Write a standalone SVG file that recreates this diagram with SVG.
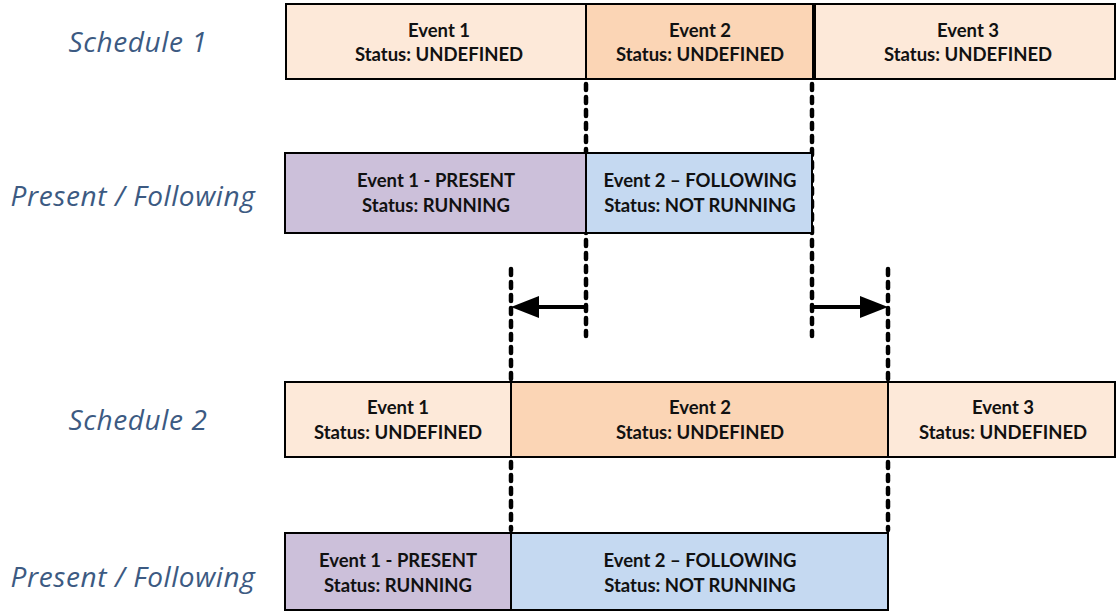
<svg xmlns="http://www.w3.org/2000/svg" width="1118" height="612" viewBox="0 0 1118 612">
<style>
.box{stroke:#000;stroke-width:2}
.sch{fill:#FDE9D9}
.hl{fill:#FBD5B5}
.pr{fill:#CCC0DA}
.fo{fill:#C5D9F1}
.t{font-family:Lato,"Open Sans",sans-serif;font-weight:bold;font-size:18.5px;fill:#111;text-anchor:middle}
.lbl{font-family:"Open Sans",Lato,sans-serif;font-style:italic;font-size:28px;letter-spacing:0.6px;fill:#3C5A82;text-anchor:middle}
.dot{stroke:#000;stroke-width:4.5;stroke-linecap:round;stroke-dasharray:6 7;fill:none}
.arr{stroke:#000;stroke-width:4;fill:none}
</style>
<g id="labels">
<text class="lbl" x="138" y="52">Schedule 1</text>
<text class="lbl" x="133" y="206">Present / Following</text>
<text class="lbl" x="138" y="430">Schedule 2</text>
<text class="lbl" x="133" y="587">Present / Following</text>
</g>
<g id="connectors">
<line class="dot" x1="586" y1="84" x2="586" y2="336"/>
<line class="dot" x1="812" y1="84" x2="812" y2="336"/>
<line class="dot" x1="511" y1="269" x2="511" y2="380"/>
<line class="dot" x1="888" y1="269" x2="888" y2="380"/>
<line class="dot" x1="511" y1="462" x2="511" y2="530"/>
<line class="dot" x1="888" y1="462" x2="888" y2="530"/>
<line class="arr" x1="586" y1="307" x2="535" y2="307"/>
<polygon points="511,307 539,296 539,318" fill="#000"/>
<line class="arr" x1="812" y1="307" x2="864" y2="307"/>
<polygon points="888,307 860,296 860,318" fill="#000"/>
</g>
<g id="s1-e1"><rect class="box sch" x="286" y="4" width="300" height="75"/><text class="t" x="439" y="37">Event 1</text><text class="t" x="439" y="61">Status: UNDEFINED</text></g>
<g id="s1-e2"><rect class="box hl" x="586" y="4" width="227" height="75"/><text class="t" x="700" y="37">Event 2</text><text class="t" x="700" y="61">Status: UNDEFINED</text></g>
<g id="s1-e3"><rect class="box sch" x="815" y="4" width="300" height="75"/><text class="t" x="968" y="37">Event 3</text><text class="t" x="968" y="61">Status: UNDEFINED</text></g>
<g id="pf1-e1"><rect class="box pr" x="285" y="153" width="301" height="80"/><text class="t" x="436" y="187">Event 1 - PRESENT</text><text class="t" x="436" y="212">Status: RUNNING</text></g>
<g id="pf1-e2"><rect class="box fo" x="586" y="153" width="226" height="80"/><text class="t" x="700" y="187">Event 2 – FOLLOWING</text><text class="t" x="700" y="212">Status: NOT RUNNING</text></g>
<g id="s2-e1"><rect class="box sch" x="285" y="382" width="226" height="75"/><text class="t" x="398" y="414">Event 1</text><text class="t" x="398" y="439">Status: UNDEFINED</text></g>
<g id="s2-e2"><rect class="box hl" x="511" y="382" width="377" height="75"/><text class="t" x="700" y="414">Event 2</text><text class="t" x="700" y="439">Status: UNDEFINED</text></g>
<g id="s2-e3"><rect class="box sch" x="888" y="382" width="227" height="75"/><text class="t" x="1003" y="414">Event 3</text><text class="t" x="1003" y="439">Status: UNDEFINED</text></g>
<g id="pf2-e1"><rect class="box pr" x="285" y="533" width="226" height="77"/><text class="t" x="398" y="567">Event 1 - PRESENT</text><text class="t" x="398" y="592">Status: RUNNING</text></g>
<g id="pf2-e2"><rect class="box fo" x="511" y="533" width="377" height="77"/><text class="t" x="700" y="567">Event 2 – FOLLOWING</text><text class="t" x="700" y="592">Status: NOT RUNNING</text></g>
</svg>
